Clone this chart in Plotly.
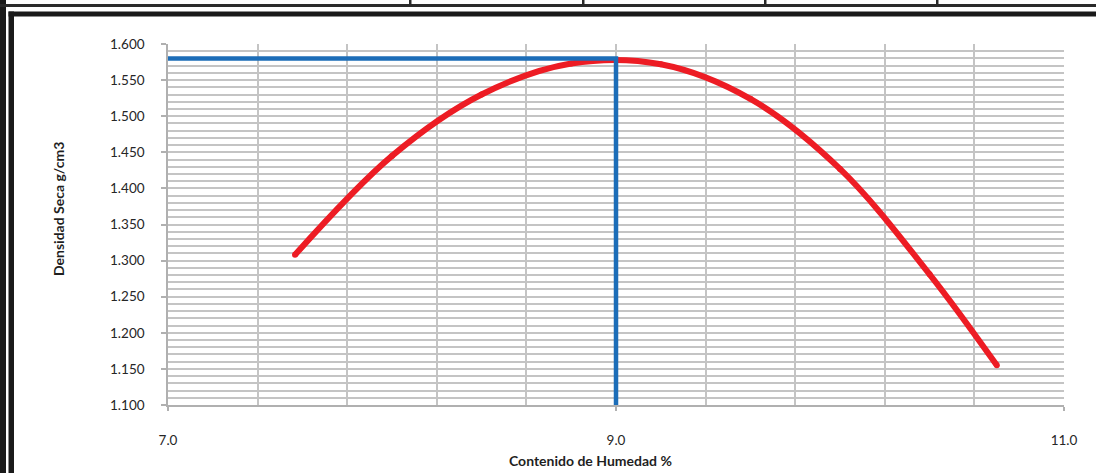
import plotly.graph_objects as go

# Compaction test results: moisture content (%) vs dry density (g/cm3)
humedad = [7.567, 8.0, 8.4, 8.8, 9.2, 9.6, 10.0, 10.4, 10.70]
densidad = [1.308, 1.445, 1.530, 1.573, 1.572, 1.524, 1.427, 1.281, 1.155]

# Optimum moisture content and maximum dry density
humedad_optima = 9.0
densidad_maxima = 1.580

x_ticks = [7.0, 9.0, 11.0]
x_tick_labels = ["7.0", "9.0", "11.0"]

W, H = 1096, 473
ML, MR, MT, MB = 168, 32, 44, 68
PW, PH = W - ML - MR, H - MT - MB

GRID = "#c4c4c4"
FONT = "Lato, 'Open Sans', sans-serif"


def px_x(px):
    return (px - ML) / PW


def px_y(py):
    return (H - MB - py) / PH


fig = go.Figure()

# Red compaction curve (markers the same size as the stroke give round ends)
fig.add_trace(go.Scatter(
    x=humedad, y=densidad, mode="lines+markers",
    line=dict(color="#ed1c24", width=6, shape="spline", smoothing=1.0),
    marker=dict(color="#ed1c24", size=6, line=dict(width=0)),
    hoverinfo="skip", showlegend=False,
))

# Blue guide lines at the optimum
fig.add_trace(go.Scatter(
    x=[x_ticks[0], humedad_optima, humedad_optima],
    y=[densidad_maxima, densidad_maxima, 1.100],
    mode="lines", line=dict(color="#1c6db8", width=4.5),
    hoverinfo="skip", showlegend=False,
))

# Frame around the sheet area
shapes = []


def rect(x0, y0, x1, y1, color):
    shapes.append(dict(type="rect", xref="paper", yref="paper",
                       x0=px_x(x0), x1=px_x(x1), y0=px_y(y1), y1=px_y(y0),
                       fillcolor=color, line=dict(width=0), layer="above"))


rect(0, 0, 6, H, "#1a1a1a")          # outer left rule
rect(8.5, 11.5, 14, H, "#1a1a1a")    # inner left rule
rect(0, 4, W, 7, "#2a2a2a")          # thin top rule
rect(8.5, 11.5, W, 16.5, "#1a1a1a")  # thick top rule
for sx in [409, 582, 764, 936]:       # cell separators above the frame
    rect(sx, 0, sx + 2.5, 5, "#2a2a2a")

annotations = [
    dict(text="<b>Contenido de Humedad %</b>", xref="paper", yref="paper",
         x=px_x(590), y=px_y(460), showarrow=False,
         font=dict(family=FONT, size=14, color="#1f1f1f"),
         xanchor="center", yanchor="middle"),
    dict(text="<b>Densidad Seca g/cm3</b>", xref="paper", yref="paper",
         x=px_x(58), y=px_y(209), showarrow=False, textangle=-90,
         font=dict(family=FONT, size=14, color="#1f1f1f"),
         xanchor="center", yanchor="middle"),
]

fig.update_layout(
    width=W, height=H,
    margin=dict(l=ML, r=MR, t=MT, b=MB),
    paper_bgcolor="white", plot_bgcolor="white",
    shapes=shapes, annotations=annotations,
    font=dict(family=FONT, size=13.5, color="#262626"),
)

fig.update_xaxes(
    range=[7.0, 11.0], tickvals=x_ticks, ticktext=x_tick_labels,
    showgrid=True, gridcolor=GRID, gridwidth=1.5,
    minor=dict(tick0=7.0, dtick=0.4, showgrid=True, gridcolor=GRID, gridwidth=1.5),
    showline=True, linecolor="#b0b0b0", linewidth=1.5,
    ticks="outside", ticklen=4, tickcolor="#b0b0b0", tickwidth=1.5,
    ticklabelstandoff=18, zeroline=False,
)

fig.update_yaxes(
    range=[1.100, 1.600], dtick=0.05, tick0=1.1, tickformat=".3f",
    showgrid=True, gridcolor=GRID, gridwidth=1.5,
    minor=dict(dtick=0.01, tick0=1.1, showgrid=True, gridcolor=GRID, gridwidth=1.5),
    showline=True, linecolor="#b0b0b0", linewidth=1.5,
    ticks="outside", ticklen=5, tickcolor="#b0b0b0", tickwidth=1.5,
    ticklabelstandoff=14, zeroline=False,
)

fig.write_html("out.html")
